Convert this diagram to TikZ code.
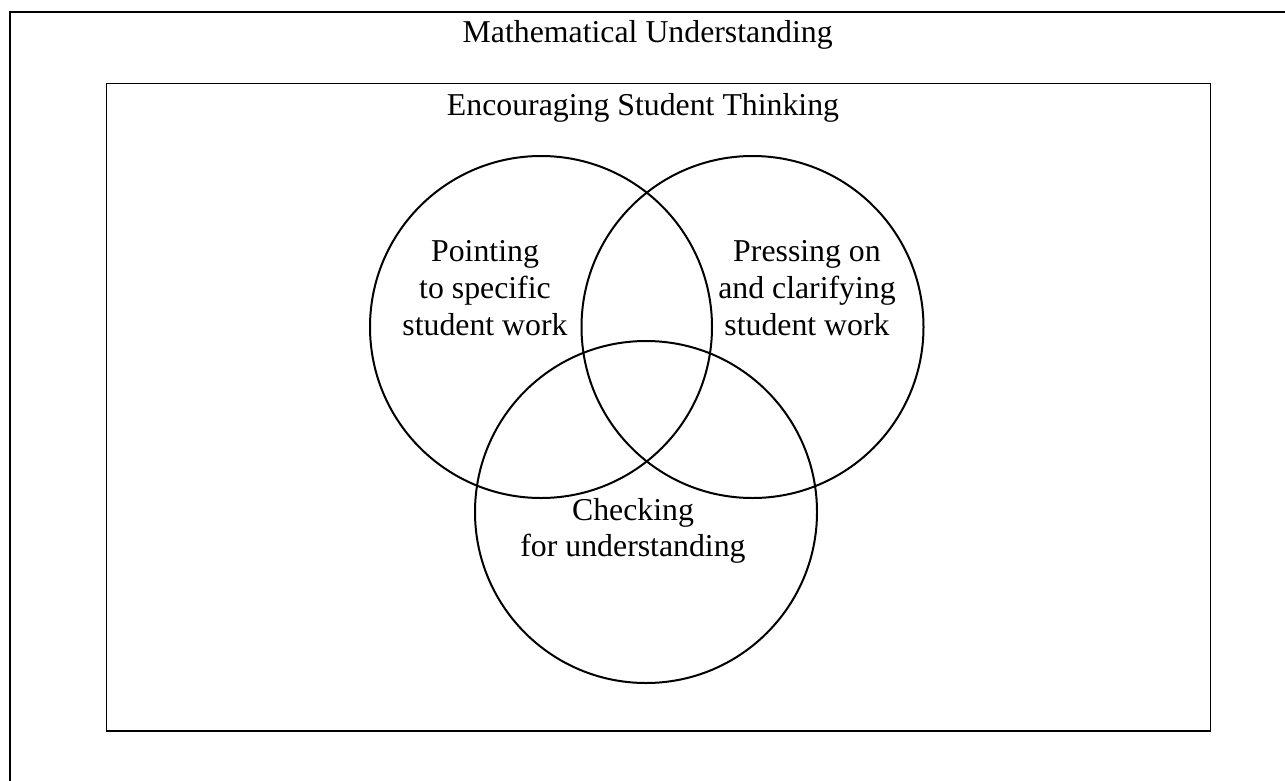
\documentclass[tikz,border=0pt]{standalone}
\usepackage{fontspec}
\setmainfont{Liberation Serif}
\begin{document}
\begin{tikzpicture}[x=1pt,y=-1pt,
  lbl/.style={font=\fontsize{31.8}{36.7}\selectfont, inner sep=0pt, align=center},
  venn/.style={draw, line width=2pt},
  frame/.style={draw, line width=1.8pt}]
\useasboundingbox (0,0) rectangle (1285,780);
\clip (0,0) rectangle (1285,780);
\fill[white] (0,0) rectangle (1285,780);
% outer box (extends beyond the page)
\draw[line width=2.2pt] (10,12) rectangle (1300,800);
\node[lbl, anchor=base] (outer) at (647.7,42.7) {Mathematical Understanding};
% inner box
\draw[frame] (106.5,83.5) rectangle (1210.5,731);
\node[lbl, anchor=base] (inner) at (643,115) {Encouraging Student Thinking};
% circles
\node[venn, circle, minimum size=342pt, inner sep=0pt] (cl) at (541,327) {};
\node[venn, circle, minimum size=342pt, inner sep=0pt] (cr) at (752.5,327) {};
\node[venn, circle, minimum size=342pt, inner sep=0pt] (cb) at (646,512) {};
% labels (base anchor = baseline of last line)
\node[lbl, anchor=base] (tl) at (485,335) {Pointing\\ to specific\\ student work};
\node[lbl, anchor=base] (tr) at (807,335) {Pressing on\\ and clarifying\\ student work};
\node[lbl, anchor=base] (tb) at (633,556.7) {Checking\\ for understanding};
\end{tikzpicture}
\end{document}
